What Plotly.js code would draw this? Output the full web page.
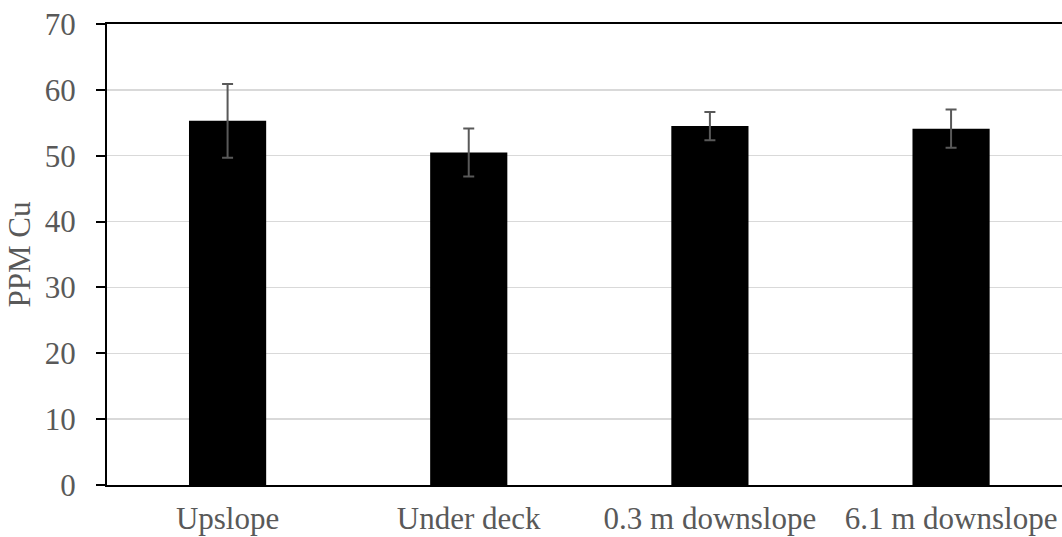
<!DOCTYPE html>
<html>
<head>
<meta charset="utf-8">
<script src="https://cdn.plot.ly/plotly-3.0.1.min.js"></script>
<style>html,body{margin:0;padding:0;overflow:hidden;background:#fff;}</style>
</head>
<body>
<div id="chart" style="width:1062px;height:537px;"></div>
<script>
const categories = ["Upslope", "Under deck", "0.3 m downslope", "6.1 m downslope"];
const ppmCu = [55.3, 50.5, 54.5, 54.1];
const ppmCuErr = [5.6, 3.65, 2.15, 2.9];
const yTicks = [0, 10, 20, 30, 40, 50, 60, 70];

const font = "Liberation Serif, Times New Roman, serif";
const fs = 31;
const trace = {
  type: "bar",
  x: categories,
  y: ppmCu,
  width: 0.32,
  marker: {color: "#000000", line: {width: 0}},
  error_y: {type: "data", array: ppmCuErr, visible: true, color: "#595959", thickness: 2, width: 5.5},
  hoverinfo: "x+y"
};
const layout = {
  width: 1062, height: 537,
  margin: {l: 107, r: 0, t: 24, b: 52},
  paper_bgcolor: "#fff", plot_bgcolor: "#fff",
  showlegend: false,
  font: {family: font, color: "#595959", size: fs},
  xaxis: {
    type: "category",
    range: [-0.5, 3.46],
    showline: true, linecolor: "#000", linewidth: 2, mirror: true,
    showgrid: false, ticks: "",
    tickfont: {family: font, size: fs, color: "#595959"},
    ticklabelstandoff: 5
  },
  yaxis: {
    range: [0, 70],
    tickvals: yTicks,
    showline: true, linecolor: "#000", linewidth: 2,
    ticks: "outside", ticklen: 9, tickwidth: 2, tickcolor: "#000",
    showgrid: true, gridcolor: "#d9d9d9", gridwidth: 1.5,
    zeroline: false,
    tickfont: {family: font, size: fs, color: "#595959"},
    ticklabelstandoff: 14,
    title: {text: "PPM Cu", font: {family: font, size: fs, color: "#595959"}, standoff: 5}
  }
};
Plotly.newPlot("chart", [trace], layout, {displayModeBar: false, staticPlot: true});
</script>
</body>
</html>
